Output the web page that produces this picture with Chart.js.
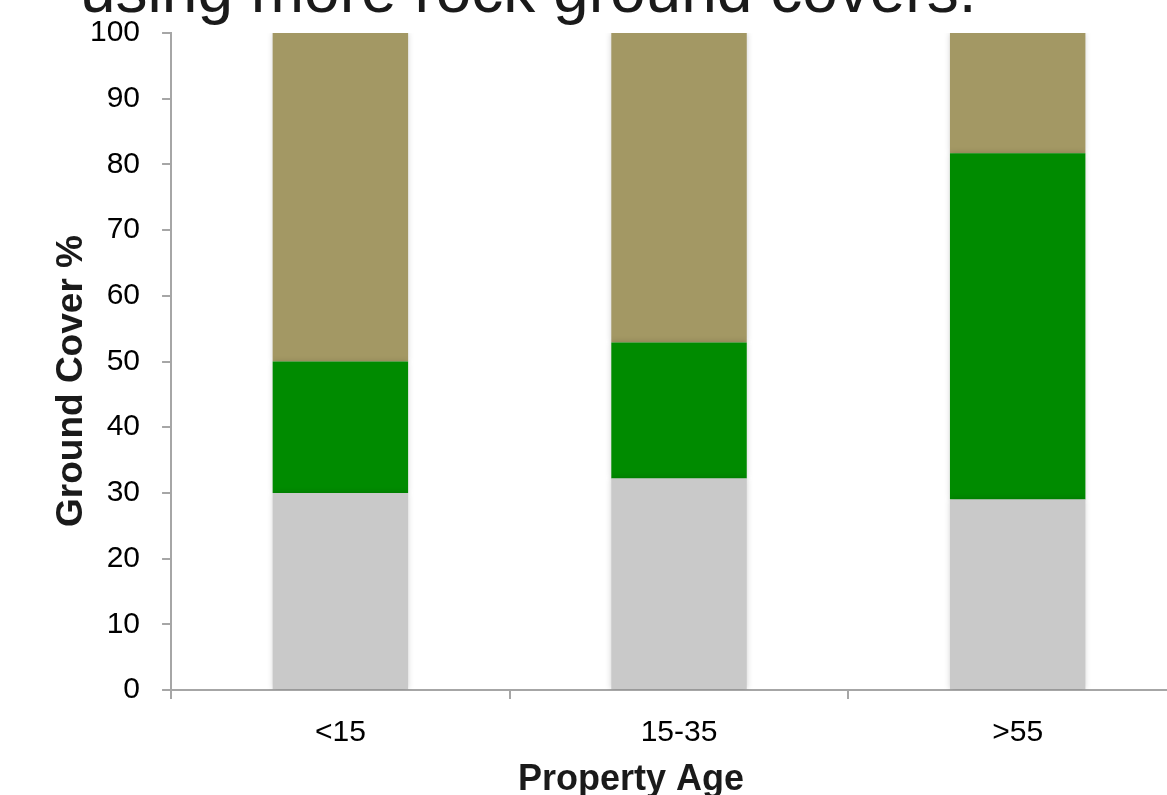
<!DOCTYPE html>
<html>
<head>
<meta charset="utf-8">
<script src="https://cdn.jsdelivr.net/npm/chart.js@4"></script>
<style>
  html, body { margin: 0; padding: 0; background: #fff; overflow: hidden; }
  #wrap { position: absolute; left: 0; top: 0; width: 1187px; height: 795px; }
</style>
</head>
<body>
<div id="wrap"><canvas id="coverChart"></canvas></div>
<script>
const ageGroups = ["<15", "15-35", ">55"];
const hardscape = [30, 32.2, 29];
const vegetation = [20, 20.7, 52.7];
const rock = [50, 47.1, 18.3];
const yTicks = [0, 10, 20, 30, 40, 50, 60, 70, 80, 90, 100];

const headline = "using more rock ground covers.";
const yTitle = "Ground Cover %";
const xTitle = "Property Age";

const fontFamily = "'Liberation Sans', Arial, Helvetica, sans-serif";
const axisGray = "#a6a6a6";

// soft drop shadow behind the bars, like the slide original
const barShadow = {
  id: "barShadow",
  beforeDatasetsDraw(chart) {
    const ctx = chart.ctx;
    ctx.save();
    ctx.shadowColor = "rgba(0, 0, 0, 0.18)";
    ctx.shadowBlur = 6;
  },
  afterDatasetsDraw(chart) {
    chart.ctx.restore();
  }
};

// headline and axis titles placed where the slide had them
const slideText = {
  id: "slideText",
  afterDraw(chart) {
    const ctx = chart.ctx;
    ctx.save();
    ctx.fillStyle = "#1a1a1a";
    ctx.textBaseline = "alphabetic";

    ctx.font = "64px " + fontFamily;
    ctx.textAlign = "left";
    ctx.fillText(headline, 80, 12);

    ctx.font = "bold 36px " + fontFamily;
    ctx.textAlign = "center";
    ctx.fillText(xTitle, 631, 790);

    ctx.font = "bold 37px " + fontFamily;
    ctx.translate(82, 381);
    ctx.rotate(-Math.PI / 2);
    ctx.fillText(yTitle, 0, 0);
    ctx.restore();
  }
};

new Chart(document.getElementById("coverChart"), {
  type: "bar",
  data: {
    labels: ageGroups,
    datasets: [
      { label: "Hardscape", data: hardscape, backgroundColor: "#c9c9c9" },
      { label: "Vegetation", data: vegetation, backgroundColor: "#008b00" },
      { label: "Rock", data: rock, backgroundColor: "#a39864" }
    ]
  },
  options: {
    responsive: true,
    maintainAspectRatio: false,
    animation: false,
    layout: {
      padding: { top: 33, left: 68, right: 0, bottom: 28 }
    },
    datasets: {
      bar: {
        categoryPercentage: 1,
        barPercentage: 0.4,
        borderWidth: 0
      }
    },
    plugins: {
      legend: { display: false },
      tooltip: { enabled: false },
      title: { display: false }
    },
    scales: {
      x: {
        stacked: true,
        grid: {
          offset: true,
          drawOnChartArea: false,
          drawTicks: true,
          tickLength: 9,
          color: axisGray,
          lineWidth: 2
        },
        border: { color: axisGray, width: 2 },
        ticks: {
          color: "#000",
          padding: 16,
          font: { family: fontFamily, size: 30 }
        }
      },
      y: {
        stacked: true,
        min: 0,
        max: 100,
        afterBuildTicks: (scale) => {
          scale.ticks = yTicks.map((value) => ({ value }));
        },
        // label padding would otherwise push the plot top down
        afterFit: (scale) => {
          scale.paddingTop = 18;
          scale.paddingBottom = 18;
        },
        grid: {
          drawOnChartArea: false,
          drawTicks: true,
          tickLength: 9,
          color: axisGray,
          lineWidth: 2
        },
        border: { color: axisGray, width: 2 },
        ticks: {
          color: "#000",
          padding: 22,
          font: { family: fontFamily, size: 30 }
        }
      }
    }
  },
  plugins: [barShadow, slideText]
});
</script>
</body>
</html>
